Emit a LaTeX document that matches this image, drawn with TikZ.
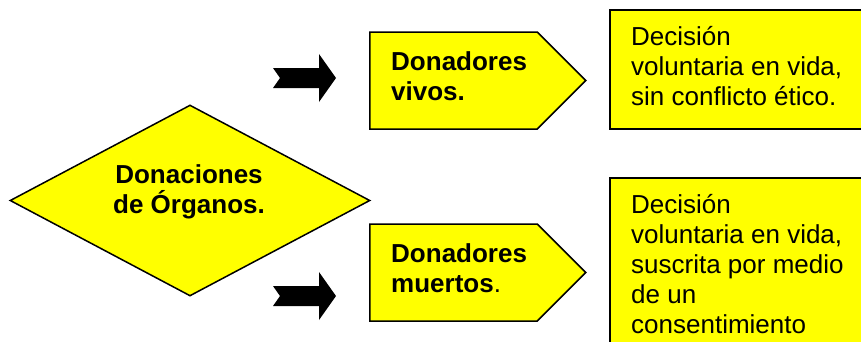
\documentclass[tikz,border=0pt]{standalone}
\usepackage{fontspec}
\setmainfont{Liberation Sans}
\usetikzlibrary{shapes.geometric,shapes.symbols}
\definecolor{amarillo}{RGB}{255,255,0}

\begin{document}
\begin{tikzpicture}
[x=1pt, y=-1pt, every node/.style={inner sep=0pt},
 caja/.style={fill=amarillo, draw=black, line width=1.5pt},
 texto/.style={font=\fontsize{26}{30}\selectfont, align=left, anchor=base west},
 negrita/.style={font=\bfseries\fontsize{26}{30}\selectfont}]
\clip (0,0) rectangle (861,341);
% figuras
\node (organos) [diamond, caja, minimum width=360pt, minimum height=191pt, aspect=1.88] at (190,200.5) {};
\node (vivos) [signal, signal to=east, caja, minimum width=216pt, minimum height=97pt, anchor=west] at (369,80.5) {};
\node (muertos) [signal, signal to=east, caja, minimum width=216pt, minimum height=97pt, anchor=west] at (369,272.5) {};
\node (vivosDesc) [rectangle, caja, minimum width=300pt, minimum height=119pt, anchor=north west] at (609,9) {};
\node (muertosDesc) [rectangle, caja, minimum width=300pt, minimum height=220pt, anchor=north west] at (609,177) {};
% textos (base = ultima linea)
\node (organosTxt) [texto, negrita, align=center, anchor=base] at (189,213) {Donaciones\\de Órganos.};
\node (vivosTxt) [texto, negrita] at (391,100) {Donadores\\vivos.};
\node (muertosTxt) [texto] at (391,292) {\textbf{Donadores}\\\textbf{muertos}.};
\node (vivosDescTxt) [texto] at (631,105) {Decisión\\voluntaria en vida,\\sin conflicto ético.};
\node (muertosDescTxt) [texto] at (631,333) {Decisión\\voluntaria en vida,\\suscrita por medio\\de un\\consentimiento};
% flechas negras
\fill [black] (273,68) -- (319,68) -- (319,54) -- (336,78) -- (319,102) -- (319,88) -- (273,88) -- (280,78) -- cycle;
\fill [black] (273,286) -- (319,286) -- (319,272) -- (336,296) -- (319,320) -- (319,306) -- (273,306) -- (280,296) -- cycle;
\end{tikzpicture}
\end{document}
